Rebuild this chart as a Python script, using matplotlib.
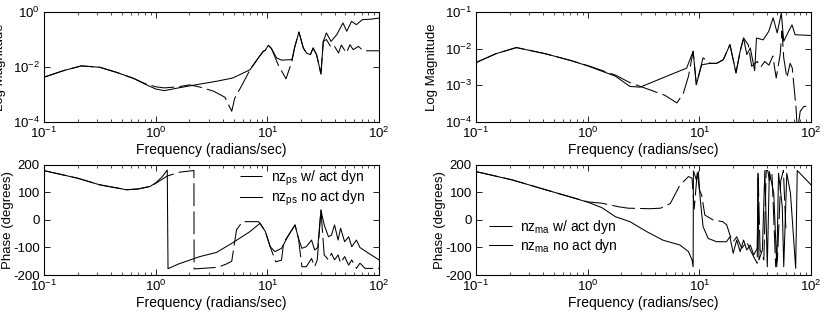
#!/usr/bin/env python3

import matplotlib
matplotlib.use('Agg')

import numpy as np
import matplotlib.pyplot as plt
from matplotlib.ticker import LogLocator, NullLocator, NullFormatter

plt.rcParams['font.family'] = ['Liberation Sans', 'DejaVu Sans']
plt.rcParams['mathtext.default'] = 'regular'
plt.rcParams['axes.unicode_minus'] = False
plt.rcParams['font.size'] = 9

nan = np.nan

# -----------------------------
# Data
# -----------------------------
# top left: nz_ps log10 magnitude
ps_mag_noact_f = [0.1, 0.15, 0.216, 0.316, 0.45, 0.63, 0.8, 1.0, 1.2, 1.6, 2.5, 3.5, 4.9, 7.0,
                  8.3, 9.2, 9.6, 10.2, 10.9, 12.1, 13.4, 16.6, 17.6, 19.2, 21.0, 22.5, 24.3,
                  25.7, 27.6, 30.2, 31.7, 33.8, 37.2, 41.9, 47.6, 51.4, 56.8, 62.8, 70.8, 85, 100]
ps_mag_noact = [-2.37, -2.13, -1.96, -2.01, -2.2, -2.41, -2.62, -2.8, -2.86, -2.76, -2.62, -2.52,
                -2.4, -2.1, -1.67, -1.43, -1.39, -1.21, -1.33, -1.67, -1.75, -1.73, -1.27, -0.73,
                -1.31, -1.5, -1.55, -1.31, -1.55, -2.25, -1.07, -0.76, -1.07, -0.82, -0.4, -0.7,
                -0.34, -0.46, -0.28, -0.26, -0.22]
ps_mag_act_f = [0.1, 0.15, 0.216, 0.316, 0.45, 0.63, 0.8, 1.0, 1.2, 1.6, 2.0, 2.5, 3.3, 4.17, 4.8,
                5.1, 6.0, 7.0, 8.3, 9.2, 9.6, 10.2, 10.9, 12.5, 14.7, 16.6, 17.6, 19.2, 21.0, 22.5,
                24.3, 25.7, 27.6, 30.2, 31.7, 33.8, 37.5, 40, 43.4, 46, 51, 55, 58.7, 65.4, 72.3, 100]
ps_mag_act = [-2.37, -2.13, -1.96, -2.01, -2.2, -2.41, -2.6, -2.72, -2.76, -2.72, -2.65, -2.73,
              -2.88, -3.1, -3.61, -3.14, -2.62, -2.1, -1.67, -1.43, -1.39, -1.21, -1.33, -1.92,
              -2.43, -1.79, -1.27, -0.73, -1.31, -1.5, -1.55, -1.31, -1.55, -2.25, -1.07, -1.0,
              -1.31, -1.25, -1.49, -1.2, -1.49, -1.19, -1.37, -1.25, -1.41, -1.41]

# top right: nz_ma log10 magnitude
ma_mag_noact_f = [0.1, 0.15, 0.23, 0.42, 0.7, 1.0, 1.77, 2.39, 2.95, 4.5, 7.7, 8.8, 9.4, 10.5,
                  12.5, 14.3, 16.4, 18.8, 21.3, 23.2, 24.9, 26.6, 28.6, 31.3, 32.5, 37.3, 41.8,
                  45.8, 49.8, 54.2, 57.0, 62.9, 67.6, 72, 100]
ma_mag_noact = [-2.38, -2.14, -1.97, -2.14, -2.32, -2.47, -2.75, -3.03, -3.05, -2.82, -2.53,
                -2.07, -2.98, -2.44, -2.4, -2.4, -2.3, -1.89, -2.66, -2.07, -1.71, -2.16, -1.98,
                -2.6, -1.71, -1.76, -1.53, -1.16, -1.57, -1.03, -1.8, -1.53, -1.35, -1.62, -1.64]
ma_mag_act_f = [0.1, 0.15, 0.23, 0.42, 0.7, 1.0, 1.77, 2.4, 3.9, 4.9, 6.3, 7.2, 8.0, 8.8, 9.4,
                10.8, 12.5, 14.3, 16.4, 18.8, 21.3, 23.2, 24.9, 27.5, 29.4, 33, 35.5, 38.5, 42,
                45.5, 48.8, 53, 55, 57, 60.8, 65, 68, 69.5, 73.5, 75, 76, 77, 80, 86, 100]
ma_mag_act = [-2.38, -2.14, -1.97, -2.14, -2.32, -2.46, -2.72, -2.93, -3.16, -3.27, -3.48, -3.21,
              -2.75, -2.07, -2.98, -2.25, -2.4, -2.4, -2.3, -1.89, -2.66, -2.07, -1.71, -1.9,
              -2.48, -2.35, -2.5, -2.35, -2.45, -2.2, -2.8, -2.15, -1.52, -2.25, -2.8, -2.4,
              -2.53, -2.85, -3.62, -4.1, nan, -4.1, -3.71, -3.58, -3.55]

# bottom left: nz_ps phase (deg)
ps_ph_noact_f = [0.1, 0.2, 0.315, 0.55, 0.7, 0.89, 1.0, 1.15, 1.27, 1.29, 1.6, 2.49, 3.5, 4.8,
                 7.0, 8.6, 9.6, 10.6, 11.7, 13.4, 15.5, 17.7, 19.0, 20.4, 22.3, 24.9, 26.5, 28.3,
                 30.2, 32.3, 35.3, 37.5, 40.0, 43.0, 45.3, 49.2, 53.5, 57.0, 62.8, 67.5, 80, 100]
ps_ph_noact = [179.5, 152, 128, 110, 113, 122, 135, 158, 182, -177, -160, -133, -118, -85, -42,
               -12, -42, -97, -115, -103, -55, -18, -67, -103, -97, -73, -109, -100, 36, -18,
               -61, -55, -18, -73, -30, -79, -61, -97, -73, -100, -120, -145]
ps_ph_act_f = [0.1, 0.2, 0.315, 0.55, 0.7, 0.89, 1.0, 1.27, 1.65, 2.2, 2.21, 3.6, 4.3, 4.8, 5.3,
               6.0, 8.3, 8.6, 9.6, 10.6, 11.9, 13.4, 14.0, 15.5, 17.7, 19.0, 20.4, 22.3, 24.9,
               26.5, 28, 30.2, 32.3, 35.3, 37.5, 40, 43, 45.3, 49.2, 53.5, 57, 62.8, 67.5, 75, 100]
ps_ph_act = [179.5, 152, 128, 110, 113, 122, 133, 160, 174, 180, -178, -172, -160, -150, -35,
             -6, -6, -12, -42, -97, -152, -146, -82, -55, -18, -67, -170, -170, -140, -170,
             -145, 36, -127, -145, -121, -145, -127, -157, -133, -164, -145, -176, -157, -176, -176]

# bottom right: nz_ma phase (deg)
ma_ph_noact_f = [0.1, 0.21, 0.42, 1.0, 1.34, 1.77, 2.39, 3.37, 4.7, 6.7, 8.0, 8.6, 8.8, 8.85,
                 9.0, 9.4, 9.8, 10.2, 10.8, 12.0, 14.3, 17.5, 18.8, 20.1, 21.6, 23.2, 24.9, 26.6,
                 28.6, 30.7, 33.0, 33.5, 34.2, 36.7, 38.6, 40.6, 42.4, 46.4, 49.4, 51.2, 55.3,
                 57, 60.7, 65.5, 72.9, 75.3, 100]
ma_ph_noact = [176, 146, 110, 65, 45, 12, -6, -42, -73, -91, -115, -145, -170, 178, 170, 146,
               176, 73, -24, -67, -79, -79, -61, -121, -73, -115, -73, -109, -91, -127, -103,
               170, -145, -109, 180, -170, 176, 97, -170, 170, 48, -170, 170, 97, -176, 180, 128]
ma_ph_act_f = [0.1, 0.21, 0.42, 1.0, 1.34, 1.9, 2.3, 3.6, 4.5, 5.5, 6.7, 8.0, 8.6, 9.0, 9.6, 10.0,
               10.5, 11.2, 13.3, 16.2, 17.6, 18.8, 20.1, 21.6, 24.0, 26.6, 28.6, 31.7, 33.0, 33.6,
               35, 37.8, 39.7, 41, 42.4, 44.7, 48.3, 50, 53.6, 56.6, 59.5]
ma_ph_act = [176, 146, 110, 66, 61, 48, 43, 41, 43, 60, 127, 158, 152, 40, 178, 110, 90, 18, 0,
             -6, -18, -55, -79, -61, -103, -79, -109, -145, -157, 170, -109, -145, 180, 180, 143,
             170, -170, -145, 143, 180, -30]

# -----------------------------
# Figure layout
# -----------------------------
W, H = 826, 316
fig = plt.figure(figsize=(W / 100, H / 100), dpi=100)

def px_axes(left, top, right, bottom):
    return fig.add_axes([left / W, 1 - bottom / H, (right - left) / W, (bottom - top) / H])

ax_tl = px_axes(44, 12, 379, 122)
ax_tr = px_axes(476, 12, 811, 122)
ax_bl = px_axes(44, 165, 379, 275)
ax_br = px_axes(476, 165, 811, 275)

dash = (0, (22, 5))
lw = 0.75

def style(ax):
    ax.set_xscale('log')
    ax.set_xlim(0.1, 100)
    ax.xaxis.set_major_locator(LogLocator(base=10, numticks=10))
    ax.xaxis.set_minor_locator(LogLocator(base=10, subs=np.arange(2, 10), numticks=20))
    ax.xaxis.set_minor_formatter(NullFormatter())
    ax.tick_params(which='both', direction='in', top=True, right=True, labelsize=9.5)
    ax.tick_params(which='major', length=4, width=0.6, pad=3)
    ax.tick_params(which='minor', length=2, width=0.5)
    ax.set_xlabel('Frequency (radians/sec)', fontsize=10, labelpad=1)
    for s in ax.spines.values():
        s.set_linewidth(0.8)

# -----------------------------
# Magnitude plots
# -----------------------------
ax_tl.plot(ps_mag_act_f, 10 ** np.array(ps_mag_act), color='k', lw=lw, ls=dash)
ax_tl.plot(ps_mag_noact_f, 10 ** np.array(ps_mag_noact), color='k', lw=lw)
ax_tl.set_yscale('log')
ax_tl.set_ylim(1e-4, 1e0)
ax_tl.set_yticks([1e-4, 1e-2, 1e0])

ax_tr.plot(ma_mag_act_f, 10 ** np.array(ma_mag_act), color='k', lw=lw, ls=dash)
ax_tr.plot(ma_mag_noact_f, 10 ** np.array(ma_mag_noact), color='k', lw=lw)
ax_tr.set_yscale('log')
ax_tr.set_ylim(1e-4, 1e-1)
ax_tr.set_yticks([1e-4, 1e-3, 1e-2, 1e-1])

for ax in (ax_tl, ax_tr):
    ax.yaxis.set_minor_locator(NullLocator())
    ax.set_ylabel('Log Magnitude', fontsize=9.5)
    ax.yaxis.set_label_coords(-38 / 335, 0.5)

# -----------------------------
# Phase plots
# -----------------------------
ax_bl.plot(ps_ph_act_f, ps_ph_act, color='k', lw=lw, ls=dash, label=r'nz$_{ps}$ w/ act dyn')
ax_bl.plot(ps_ph_noact_f, ps_ph_noact, color='k', lw=lw, label=r'nz$_{ps}$ no act dyn')
ax_bl.legend(loc='upper left', bbox_to_anchor=(0.585, 0.97), frameon=False, fontsize=10,
             handlelength=1.6, handletextpad=0.6, labelspacing=0.1, borderpad=0,
             borderaxespad=0)

ax_br.plot(ma_ph_act_f, ma_ph_act, color='k', lw=lw, ls=dash, label=r'nz$_{ma}$ w/ act dyn')
ax_br.plot(ma_ph_noact_f, ma_ph_noact, color='k', lw=lw, label=r'nz$_{ma}$ no act dyn')
ax_br.legend(loc='upper left', bbox_to_anchor=(0.04, 0.52), frameon=False, fontsize=10,
             handlelength=1.6, handletextpad=0.6, labelspacing=0.1, borderpad=0,
             borderaxespad=0)

for ax in (ax_bl, ax_br):
    ax.set_ylim(-200, 200)
    ax.set_yticks([-200, -100, 0, 100, 200])
    ax.set_ylabel('Phase (degrees)', fontsize=9.5)
    ax.yaxis.set_label_coords(-30 / 335, 0.5)

for ax in (ax_tl, ax_tr, ax_bl, ax_br):
    style(ax)

fig.savefig('out.png', dpi=100)
plt.close()
